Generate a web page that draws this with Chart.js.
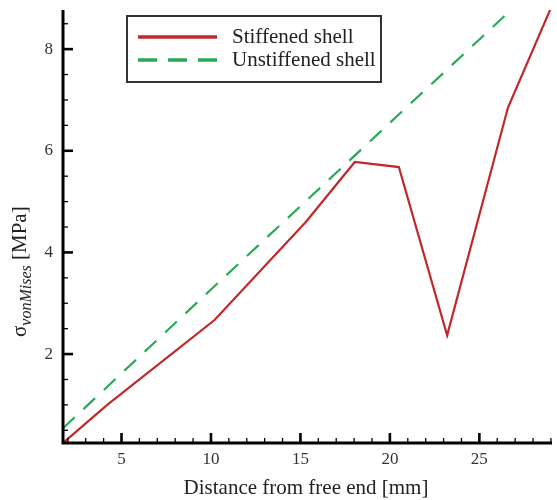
<!DOCTYPE html>
<html>
<head>
<meta charset="utf-8">
<script src="https://cdn.jsdelivr.net/npm/chart.js@4.4.0/dist/chart.umd.min.js"></script>
<style>
  html, body { margin: 0; padding: 0; background: #fff; }
  canvas { display: block; }
</style>
</head>
<body>
<canvas id="stressChart" width="557" height="500"></canvas>
<script>
// Data
const stiffDistance = [1.73, 4.2, 10.2, 15.3, 18.04, 20.5, 23.2, 26.6, 29.05];
const stiffStress   = [0.25, 1.0, 2.67, 4.6, 5.78, 5.68, 2.37, 6.85, 8.85];
const plainDistance = [1.73, 5, 10, 15, 20, 25, 29.05];
const plainStress   = [0.54, 1.62, 3.27, 4.91, 6.55, 8.19, 9.52];
const seriesNames = ['Stiffened shell', 'Unstiffened shell'];
const xTicks = [5, 10, 15, 20, 25];
const yTicks = [2, 4, 6, 8];

const RED = '#c0282a';
const GREEN = '#2aa957';
const SERIF = '"Liberation Serif", "DejaVu Serif", serif';

function toPoints(xs, ys) {
    return xs.map((x, i) => ({ x: x, y: ys[i] }));
}

// Axis lines, inward tick marks, legend box and titles
const decorations = {
    id: 'decorations',
    afterDraw(chart) {
        const ctx = chart.ctx;
        const area = chart.chartArea;
        const xs = chart.scales.x;
        const ys = chart.scales.y;
        ctx.save();
        ctx.strokeStyle = '#000';

        // minor ticks
        ctx.lineWidth = 1.3;
        for (let v = 2; v <= 29; v++) {
            const px = xs.getPixelForValue(v);
            ctx.beginPath(); ctx.moveTo(px, area.bottom); ctx.lineTo(px, area.bottom - 5); ctx.stroke();
        }
        for (let v = 0.5; v <= 8.6; v += 0.5) {
            const py = ys.getPixelForValue(v);
            ctx.beginPath(); ctx.moveTo(area.left, py); ctx.lineTo(area.left + 5, py); ctx.stroke();
        }
        // major ticks
        ctx.lineWidth = 2.6;
        xTicks.forEach(v => {
            const px = xs.getPixelForValue(v);
            ctx.beginPath(); ctx.moveTo(px, area.bottom); ctx.lineTo(px, area.bottom - 10); ctx.stroke();
        });
        yTicks.forEach(v => {
            const py = ys.getPixelForValue(v);
            ctx.beginPath(); ctx.moveTo(area.left, py); ctx.lineTo(area.left + 10, py); ctx.stroke();
        });
        // axis lines
        ctx.lineWidth = 3;
        ctx.beginPath();
        ctx.moveTo(area.left, area.top);
        ctx.lineTo(area.left, area.bottom);
        ctx.lineTo(area.right, area.bottom);
        ctx.stroke();

        // legend
        ctx.fillStyle = '#fff';
        ctx.fillRect(127, 16, 254, 66);
        ctx.lineWidth = 2;
        ctx.strokeStyle = '#333';
        ctx.strokeRect(127, 16, 254, 66);
        ctx.lineWidth = 3.5;
        ctx.strokeStyle = RED;
        ctx.beginPath(); ctx.moveTo(138, 37); ctx.lineTo(217, 37); ctx.stroke();
        ctx.strokeStyle = GREEN;
        ctx.setLineDash([19, 11]);
        ctx.beginPath(); ctx.moveTo(138, 60); ctx.lineTo(217, 60); ctx.stroke();
        ctx.setLineDash([]);
        ctx.fillStyle = '#222';
        ctx.font = '21px ' + SERIF;
        ctx.textBaseline = 'middle';
        ctx.textAlign = 'left';
        ctx.fillText(seriesNames[0], 232, 37);
        ctx.fillText(seriesNames[1], 232, 60);

        // x title
        ctx.textAlign = 'center';
        ctx.textBaseline = 'alphabetic';
        ctx.fillText('Distance from free end [mm]', 306, 494);

        // y title: sigma with italic subscript
        ctx.translate(26, 337);
        ctx.rotate(-Math.PI / 2);
        ctx.textAlign = 'left';
        ctx.font = '21px ' + SERIF;
        ctx.fillText('σ', 0, 0);
        let w = ctx.measureText('σ').width;
        ctx.font = 'italic 16px ' + SERIF;
        ctx.fillText('vonMises', w, 5);
        w += ctx.measureText('vonMises').width;
        ctx.font = '21px ' + SERIF;
        ctx.fillText(' [MPa]', w, 0);
        ctx.restore();
    }
};

const ctx = document.getElementById('stressChart').getContext('2d');
const stressChart = new Chart(ctx, {
    type: 'scatter',
    data: {
        datasets: [{
            label: seriesNames[0],
            data: toPoints(stiffDistance, stiffStress),
            showLine: true,
            borderColor: RED,
            borderWidth: 2.2,
            pointRadius: 0,
            tension: 0
        }, {
            label: seriesNames[1],
            data: toPoints(plainDistance, plainStress),
            showLine: true,
            borderColor: GREEN,
            borderWidth: 2.2,
            borderDash: [16, 12],
            pointRadius: 0,
            tension: 0
        }]
    },
    options: {
        responsive: false,
        animation: false,
        devicePixelRatio: 1,
        layout: { padding: { left: 0, right: 5, top: 10, bottom: 0 } },
        plugins: { legend: { display: false }, tooltip: { enabled: false } },
        scales: {
            x: {
                type: 'linear',
                min: 1.73,
                max: 29.06,
                grid: { display: false, drawTicks: false },
                border: { display: false },
                afterBuildTicks: s => { s.ticks = xTicks.map(v => ({ value: v })); },
                afterFit: s => { s.height = 57; s.paddingLeft = 0; s.paddingRight = 0; },
                ticks: { color: '#333', padding: 6, font: { family: SERIF, size: 17 } }
            },
            y: {
                min: 0.25,
                max: 8.77,
                grid: { display: false, drawTicks: false },
                border: { display: false },
                afterBuildTicks: s => { s.ticks = yTicks.map(v => ({ value: v })); },
                afterFit: s => { s.width = 63; s.paddingTop = 0; s.paddingBottom = 0; },
                ticks: { color: '#333', padding: 10, font: { family: SERIF, size: 17 } }
            }
        }
    },
    plugins: [decorations]
});
</script>
</body>
</html>
